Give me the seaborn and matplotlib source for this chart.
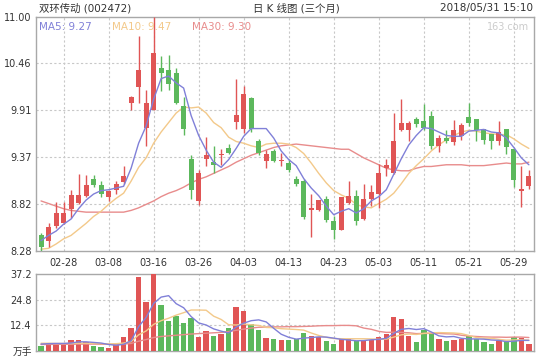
import numpy as np
import pandas as pd
import matplotlib
matplotlib.use('Agg')
import matplotlib.pyplot as plt
import seaborn as sns

sns.set_style('white')
plt.rcParams['font.family'] = ['DejaVu Sans', 'Noto Sans CJK SC']
plt.rcParams['font.size'] = 7

RED = '#e05555'
GREEN = '#5cb85c'
C_MA5 = '#8080d8'
C_MA10 = '#f3c98a'
C_MA30 = '#e88c8c'
GRID = '#c8c8c8'
FRAME = '#a8a8a8'
TXT = '#333333'

dates = ['02-23', '02-26', '02-27', '02-28', '03-01', '03-02', '03-05', '03-06', '03-07', '03-08',
         '03-09', '03-12', '03-13', '03-14', '03-15', '03-16', '03-19', '03-20', '03-21', '03-22',
         '03-23', '03-26', '03-27', '03-28', '03-29', '03-30', '04-02', '04-03', '04-04', '04-09',
         '04-10', '04-11', '04-12', '04-13', '04-16', '04-17', '04-18', '04-19', '04-20', '04-23',
         '04-24', '04-25', '04-26', '04-27', '05-02', '05-03', '05-04', '05-07', '05-08', '05-09',
         '05-10', '05-11', '05-14', '05-15', '05-16', '05-17', '05-18', '05-21', '05-22', '05-23',
         '05-24', '05-25', '05-28', '05-29', '05-30', '05-31']
date_ticks = ['02-28', '03-08', '03-16', '03-26', '04-03', '04-13', '04-23', '05-03', '05-11', '05-21', '05-29']

open_ = [8.46, 8.39, 8.57, 8.60, 8.77, 8.84, 8.92, 9.11, 9.05, 8.90,
         8.99, 9.08, 10.00, 10.18, 9.71, 9.91, 10.40, 10.38, 10.34, 9.96,
         9.35, 8.86, 9.35, 9.31, 9.39, 9.48, 9.78, 9.70, 10.06, 9.56,
         9.32, 9.44, 9.32, 9.30, 9.11, 9.09, 8.76, 8.76, 8.88, 8.63,
         8.52, 8.84, 8.92, 8.65, 8.88, 8.94, 9.24, 9.18, 9.68, 9.68,
         9.81, 9.79, 9.85, 9.50, 9.59, 9.54, 9.61, 9.84, 9.81, 9.69,
         9.64, 9.56, 9.69, 9.46, 8.97, 9.03]
high = [8.49, 8.60, 8.85, 8.85, 8.99, 9.17, 9.16, 9.16, 9.09, 8.99,
        9.09, 9.26, 10.08, 10.78, 10.15, 11.00, 10.54, 10.55, 10.40, 10.07,
        9.39, 9.22, 9.60, 9.50, 9.46, 9.52, 10.28, 10.19, 10.07, 9.58,
        9.45, 9.46, 9.42, 9.35, 9.15, 9.12, 8.94, 8.87, 8.92, 8.68,
        8.91, 9.09, 8.99, 9.06, 9.04, 9.29, 9.35, 9.88, 10.04, 9.79,
        9.83, 9.99, 9.90, 9.62, 9.68, 9.80, 9.76, 10.00, 9.81, 9.70,
        9.64, 9.79, 9.70, 9.47, 9.27, 9.22]
low = [8.28, 8.32, 8.55, 8.59, 8.66, 8.82, 8.91, 9.02, 8.91, 8.86,
       8.94, 9.06, 9.91, 10.00, 9.50, 9.91, 10.14, 10.15, 9.99, 9.62,
       8.88, 8.81, 9.26, 9.19, 9.28, 9.40, 9.70, 9.65, 9.66, 9.39,
       9.24, 9.31, 9.27, 9.20, 9.03, 8.65, 8.44, 8.74, 8.62, 8.42,
       8.52, 8.82, 8.58, 8.64, 8.80, 8.78, 9.15, 9.17, 9.67, 9.55,
       9.72, 9.68, 9.46, 9.43, 9.53, 9.51, 9.57, 9.73, 9.55, 9.52,
       9.46, 9.51, 9.40, 9.02, 8.79, 9.00]
close = [8.33, 8.56, 8.72, 8.72, 8.93, 8.93, 9.05, 9.05, 8.94, 8.97,
         9.06, 9.15, 10.07, 10.38, 10.00, 10.58, 10.35, 10.22, 10.00, 9.70,
         8.99, 9.19, 9.39, 9.28, 9.41, 9.42, 9.86, 10.10, 9.70, 9.42,
         9.40, 9.32, 9.34, 9.22, 9.06, 8.67, 8.78, 8.87, 8.64, 8.52,
         8.90, 8.92, 8.63, 8.88, 8.96, 9.18, 9.28, 9.55, 9.77, 9.77,
         9.75, 9.71, 9.50, 9.59, 9.56, 9.68, 9.74, 9.76, 9.68, 9.57,
         9.56, 9.66, 9.49, 9.10, 9.00, 9.15]

ma5 = [8.40, 8.46, 8.51, 8.59, 8.65, 8.77, 8.87, 8.94, 8.98, 8.99,
       9.01, 9.03, 9.24, 9.53, 9.73, 10.04, 10.28, 10.31, 10.23, 10.17,
       9.85, 9.62, 9.45, 9.31, 9.25, 9.34, 9.47, 9.61, 9.70, 9.70,
       9.70, 9.59, 9.44, 9.34, 9.27, 9.12, 9.01, 8.92, 8.80, 8.70,
       8.74, 8.77, 8.72, 8.77, 8.86, 8.91, 8.99, 9.17, 9.35, 9.51,
       9.62, 9.71, 9.70, 9.66, 9.62, 9.61, 9.61, 9.67, 9.68, 9.69,
       9.66, 9.65, 9.59, 9.48, 9.36, 9.28]
ma10 = [8.30, 8.31, 8.36, 8.42, 8.46, 8.53, 8.60, 8.68, 8.74, 8.82,
        8.89, 8.95, 9.09, 9.25, 9.36, 9.53, 9.66, 9.77, 9.88, 9.95,
        9.94, 9.95, 9.88, 9.77, 9.71, 9.60, 9.55, 9.53, 9.50, 9.48,
        9.52, 9.53, 9.53, 9.52, 9.48, 9.41, 9.30, 9.18, 9.07, 8.98,
        8.93, 8.89, 8.82, 8.79, 8.78, 8.83, 8.88, 8.95, 9.06, 9.18,
        9.27, 9.35, 9.44, 9.51, 9.57, 9.62, 9.66, 9.68, 9.67, 9.65,
        9.64, 9.63, 9.63, 9.58, 9.52, 9.47]
ma30 = [8.86, 8.83, 8.80, 8.77, 8.75, 8.74, 8.73, 8.73, 8.73, 8.73,
        8.73, 8.73, 8.75, 8.78, 8.82, 8.86, 8.91, 8.95, 8.98, 9.02,
        9.07, 9.11, 9.14, 9.18, 9.22, 9.26, 9.31, 9.35, 9.39, 9.42,
        9.45, 9.48, 9.50, 9.51, 9.52, 9.51, 9.50, 9.49, 9.48, 9.47,
        9.46, 9.46, 9.41, 9.36, 9.32, 9.28, 9.24, 9.22, 9.21, 9.21,
        9.24, 9.26, 9.26, 9.27, 9.28, 9.28, 9.28, 9.27, 9.27, 9.27,
        9.28, 9.29, 9.30, 9.29, 9.29, 9.31]

# volume in 万手
volume = [2.4, 3.8, 3.8, 3.3, 5.2, 5.2, 4.2, 2.3, 1.8, 1.3,
          3.3, 6.7, 11.1, 36.0, 23.8, 37.2, 22.3, 14.5, 16.9, 13.5,
          16.0, 6.7, 9.6, 7.2, 8.2, 11.1, 21.3, 19.4, 13.0, 10.1,
          6.2, 5.7, 5.2, 5.2, 5.7, 8.6, 7.2, 6.8, 4.7, 3.3,
          5.7, 5.7, 4.7, 5.2, 5.2, 6.7, 8.2, 16.5, 15.5, 7.2,
          4.2, 10.1, 8.6, 5.7, 4.7, 5.2, 5.7, 7.2, 5.7, 4.2,
          3.3, 4.7, 4.2, 6.7, 6.2, 3.3]
vol_ma5 = [3.2, 3.4, 3.5, 3.5, 3.7, 4.3, 4.3, 4.0, 3.7, 3.0,
           2.6, 3.1, 4.8, 11.7, 16.2, 23.0, 26.1, 26.8, 22.9, 20.9,
           16.6, 13.5, 12.5, 10.6, 9.5, 8.6, 11.5, 13.4, 14.6, 15.0,
           14.0, 10.9, 8.0, 6.5, 5.6, 6.1, 6.4, 6.7, 6.6, 6.1,
           5.5, 5.2, 4.8, 4.9, 5.3, 5.5, 6.0, 8.4, 10.4, 10.8,
           10.3, 10.7, 9.1, 7.2, 6.7, 6.9, 6.0, 5.7, 5.7, 5.6,
           5.2, 5.0, 4.4, 4.6, 5.0, 5.0]
vol_ma10 = [3.6, 3.6, 3.5, 3.5, 3.5, 3.6, 3.6, 3.5, 3.4, 3.3,
            3.4, 3.7, 4.4, 7.7, 9.6, 12.8, 14.6, 15.8, 17.3, 18.5,
            19.8, 19.8, 19.7, 16.8, 15.2, 12.6, 12.5, 13.0, 12.6, 12.3,
            11.3, 11.2, 10.7, 10.5, 10.3, 10.0, 8.6, 7.4, 6.5, 5.9,
            5.8, 5.8, 5.8, 5.8, 5.7, 5.5, 5.6, 6.6, 7.7, 8.1,
            7.9, 8.4, 8.7, 8.8, 8.7, 8.6, 8.3, 7.4, 6.4, 6.1,
            6.0, 5.5, 5.1, 5.2, 5.3, 5.1]
vol_ma30 = [3.0, 3.0, 3.1, 3.1, 3.1, 3.2, 3.2, 3.2, 3.1, 3.1,
            3.1, 3.2, 3.5, 4.6, 5.4, 6.4, 6.9, 7.2, 7.5, 7.8,
            8.1, 8.3, 8.5, 8.7, 8.9, 9.3, 9.9, 10.5, 11.0, 11.4,
            11.5, 11.6, 11.6, 11.7, 11.7, 11.8, 11.9, 12.1, 12.2, 12.2,
            12.3, 12.3, 12.1, 11.0, 10.4, 9.4, 8.9, 9.0, 8.9, 8.7,
            8.3, 8.4, 8.4, 8.4, 8.2, 8.1, 7.5, 7.1, 6.9, 6.7,
            6.6, 6.6, 6.5, 6.6, 6.6, 6.4]

price_ticks = ['8.28', '8.82', '9.37', '9.91', '10.46', '11.00']
vol_ticks = ['12.4', '24.8', '37.2']

df = pd.DataFrame({'date': dates, 'open': open_, 'high': high, 'low': low, 'close': close,
                   'ma5': ma5, 'ma10': ma10, 'ma30': ma30, 'volume': volume,
                   'vma5': vol_ma5, 'vma10': vol_ma10, 'vma30': vol_ma30})
df['idx'] = np.arange(len(df))
df['up'] = df['close'] >= df['open']
df['color'] = np.where(df['up'], RED, GREEN)
tick_idx = [dates.index(d) for d in date_ticks]

fig = plt.figure(figsize=(5.4, 3.6), dpi=100)
ax = fig.add_axes([0.0667, 0.303, 0.922, 0.651])
axv = fig.add_axes([0.0667, 0.026, 0.922, 0.212])

# candles
ax.vlines(df['idx'], df['low'], df['high'], colors=df['color'], linewidth=1, zorder=3)
body_low = df[['open', 'close']].min(axis=1)
body_h = (df['close'] - df['open']).abs().clip(lower=0.012)
ax.bar(df['idx'], body_h, bottom=body_low, width=0.66, color=df['color'], linewidth=0, zorder=4)

sns.lineplot(data=df, x='idx', y='ma30', ax=ax, color=C_MA30, linewidth=1, zorder=2)
sns.lineplot(data=df, x='idx', y='ma10', ax=ax, color=C_MA10, linewidth=1, zorder=2)
sns.lineplot(data=df, x='idx', y='ma5', ax=ax, color=C_MA5, linewidth=1, zorder=5)

# volume
axv.bar(df['idx'], df['volume'], width=0.72, color=df['color'], linewidth=0, zorder=3)
sns.lineplot(data=df, x='idx', y='vma30', ax=axv, color=C_MA30, linewidth=1, zorder=4)
sns.lineplot(data=df, x='idx', y='vma10', ax=axv, color=C_MA10, linewidth=1, zorder=4)
sns.lineplot(data=df, x='idx', y='vma5', ax=axv, color=C_MA5, linewidth=1, zorder=5)

pt = [float(t) for t in price_ticks]
vt = [float(t) for t in vol_ticks]
for a in (ax, axv):
    a.set_xlim(-0.67, len(df) - 1 + 0.67)
    a.set_xlabel('')
    a.set_ylabel('')
    a.set_xticks(tick_idx)
    for s in a.spines.values():
        s.set_color(FRAME)
        s.set_linewidth(1)
    a.grid(True, axis='x', color=GRID, linestyle=(0, (2, 2)), linewidth=0.8, zorder=0)
    a.tick_params(length=0, labelsize=7, colors=TXT, pad=3)

ax.set_ylim(pt[0], pt[-1])
ax.set_yticks(pt)
ax.set_yticklabels(price_ticks)
for y in pt[1:-1]:
    ax.axhline(y, color=GRID, linestyle=(0, (2, 2)), linewidth=0.8, zorder=0)
ax.set_xticklabels(date_ticks)
ax.tick_params(axis='x', pad=5)

axv.set_ylim(0, vt[-1])
axv.set_yticks([0] + vt)
axv.set_yticklabels(['万手'] + vol_ticks)
for y in vt[:-1]:
    axv.axhline(y, color=GRID, linestyle=(0, (2, 2)), linewidth=0.8, zorder=0)
axv.set_xticklabels([])

# header texts
fig.text(0.072, 0.977, '双环传动 (002472)', ha='left', va='center', fontsize=7.5, color=TXT)
fig.text(0.548, 0.977, '日 K 线图 (三个月)', ha='center', va='center', fontsize=7.5, color=TXT)
fig.text(0.987, 0.977, '2018/05/31 15:10', ha='right', va='center', fontsize=7.5, color=TXT)

ax.text(0.006, 0.975, 'MA5: 9.27', transform=ax.transAxes, ha='left', va='top', fontsize=7.5, color=C_MA5)
ax.text(0.153, 0.975, 'MA10: 9.47', transform=ax.transAxes, ha='left', va='top', fontsize=7.5, color=C_MA10)
ax.text(0.314, 0.975, 'MA30: 9.30', transform=ax.transAxes, ha='left', va='top', fontsize=7.5, color=C_MA30)
ax.text(0.99, 0.975, '163.com', transform=ax.transAxes, ha='right', va='top', fontsize=7, color='#cccccc')

fig.savefig('out.png', dpi=100)
